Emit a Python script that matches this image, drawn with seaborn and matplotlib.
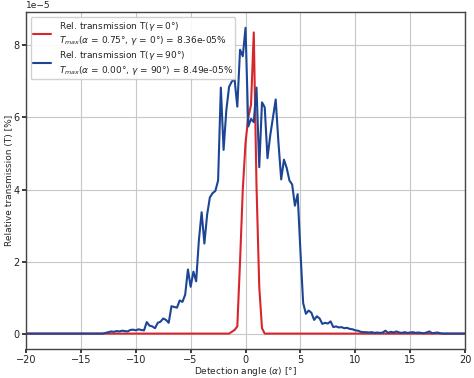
#!/usr/bin/env python
# -*- coding: utf-8 -*-

"""Relative transmission vs detection angle for two polarisation angles."""

import numpy as np
import pandas as pd
import matplotlib
matplotlib.use("Agg")
import matplotlib.pyplot as plt
import seaborn as sns

# detection angle grid (deg), step 0.25
angles = np.arange(-20, 20.25, 0.25)

# relative transmission, units of 1e-5 %
# gamma = 0 deg: values from -20 to 20 deg
t_gamma0 = (
    [0.0] * 74 +                                   # -20.0 .. -1.75
    [0.0, 0.05, 0.1, 0.2, 2.0, 4.0, 5.3, 6.0, 6.35, 8.36,
     4.1, 1.3, 0.15] +                             # -1.5 .. 1.5
    [0.0] * 74                                     # 1.75 .. 20.0
)

# gamma = 90 deg: nonzero part from -13 to 18 deg
t_gamma90_core = [
    0.0, 0.02, 0.04, 0.06, 0.05, 0.07, 0.06, 0.08, 0.07, 0.06,   # -13.0
    0.1, 0.11, 0.09, 0.12, 0.1, 0.09, 0.32, 0.22, 0.2, 0.15,     # -10.5
    0.3, 0.33, 0.42, 0.38, 0.3, 0.76, 0.74, 0.72, 0.92, 0.88,    # -8.0
    1.08, 1.78, 1.3, 1.72, 1.45, 2.6, 3.37, 2.5, 3.3, 3.78,      # -5.5
    3.9, 3.96, 4.25, 6.83, 5.1, 6.2, 6.85, 7.0, 7.06, 6.3,       # -3.0
    7.88, 7.7, 8.49, 5.75, 5.96, 5.87, 6.83, 4.62, 6.42, 6.28,   # -0.5
    4.87, 5.5, 6.0, 6.5, 5.3, 4.28, 4.83, 4.6, 4.25, 4.14,       # 2.0
    3.55, 3.87, 2.3, 0.85, 0.55, 0.64, 0.58, 0.38, 0.48, 0.42,   # 4.5
    0.27, 0.3, 0.28, 0.34, 0.18, 0.2, 0.17, 0.18, 0.15, 0.16,    # 7.0
    0.13, 0.12, 0.09, 0.08, 0.05, 0.04, 0.04, 0.03, 0.04, 0.02,  # 9.5
    0.03, 0.02, 0.03, 0.08, 0.02, 0.05, 0.03, 0.06, 0.03, 0.02,  # 12.0
    0.04, 0.02, 0.03, 0.04, 0.02, 0.03, 0.02, 0.01, 0.03, 0.06,  # 14.5
    0.01, 0.02, 0.03, 0.01, 0.0,                                 # 17.0
]
t_gamma90 = [0.0] * 28 + t_gamma90_core + [0.0] * 8

label0 = ("Rel. transmission T($\\gamma=0$°)\n"
          "$T_{max}$($\\alpha$ = 0.75°, $\\gamma$ = 0°) = 8.36e-05%")
label90 = ("Rel. transmission T($\\gamma=90$°)\n"
           "$T_{max}$($\\alpha$ = 0.00°, $\\gamma$ = 90°) = 8.49e-05%")

sns.set_theme(style="whitegrid", rc={
    "axes.edgecolor": "#444444",
    "axes.linewidth": 1.0,
    "grid.color": "#c8c8c8",
    "grid.linewidth": 0.8,
    "xtick.bottom": True,
    "ytick.left": True,
    "xtick.major.size": 3,
    "ytick.major.size": 3,
    "xtick.color": "#222222",
    "ytick.color": "#222222",
})
plt.rcParams["font.family"] = ["DejaVu Sans"]
plt.rcParams["font.size"] = 6.5

df = pd.DataFrame({
    "angle": np.concatenate([angles, angles]),
    "T": np.array(t_gamma0 + t_gamma90) * 1e-5,
    "series": [label0] * len(angles) + [label90] * len(angles),
})

fig = plt.figure(figsize=(4.74, 3.78), dpi=100)
ax = fig.add_axes([0.055, 0.077, 0.926, 0.89])

sns.lineplot(data=df, x="angle", y="T", hue="series",
             palette=["#d8262c", "#1c4595"], linewidth=1.5,
             estimator=None, ax=ax)

ax.set_xlim(-20, 20)
ax.set_xticks(np.arange(-20, 21, 5))
ax.ticklabel_format(axis="y", style="sci", scilimits=(0, 0))
ax.tick_params(labelsize=7, pad=1.5)
ax.yaxis.get_offset_text().set_fontsize(6.5)
ax.set_xlabel("Detection angle ($\\alpha$) [°]", fontsize=6.5, labelpad=0)
ax.set_ylabel("Relative transmission (T) [%]", fontsize=6.5, labelpad=0)
ax.legend(loc="upper left", fontsize=6.5, title=None, handlelength=2.0,
          framealpha=0.9, borderpad=0.3, labelspacing=0.15)

fig.savefig("out.png", dpi=100)
